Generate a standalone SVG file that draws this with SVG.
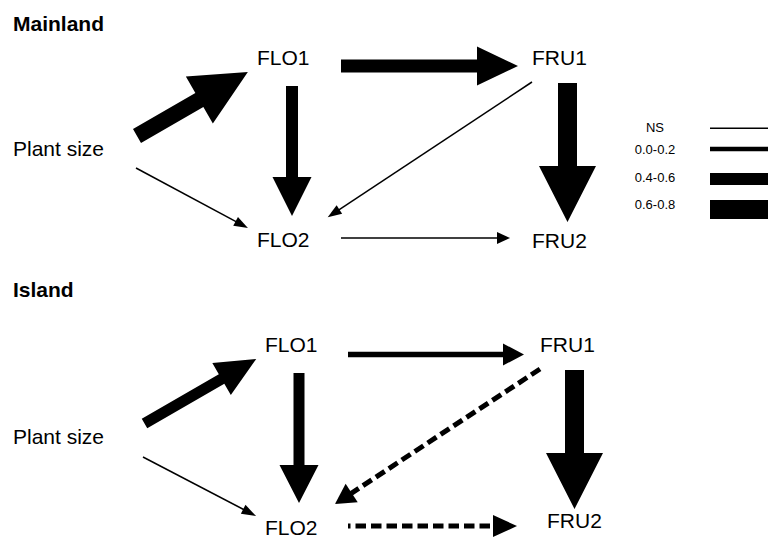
<svg xmlns="http://www.w3.org/2000/svg" width="768" height="540" viewBox="0 0 768 540">
<style>
.lbl{font-family:"Liberation Sans",Arial,sans-serif;font-size:21px;fill:#000}
.ttl{font-family:"Liberation Sans",Arial,sans-serif;font-size:21px;font-weight:bold;fill:#000}
.leg{font-family:"Liberation Sans",Arial,sans-serif;font-size:13px;fill:#000;text-anchor:middle}
.blk{fill:#000;stroke:none}
.thin{stroke:#000;stroke-width:1.5;fill:none}
.dash{stroke:#000;stroke-width:5;fill:none;stroke-dasharray:10.5 5}
.legline{stroke:#000;fill:none}
</style>
<rect width="768" height="540" fill="#fff"/>

<text class="ttl" x="13" y="31">Mainland</text>
<text class="ttl" x="13" y="297">Island</text>

<g id="m-plantsize"><text class="lbl" x="13" y="156">Plant size</text></g>
<g id="m-flo1"><text class="lbl" x="257" y="65">FLO1</text></g>
<g id="m-fru1"><text class="lbl" x="532" y="65">FRU1</text></g>
<g id="m-flo2"><text class="lbl" x="257" y="247">FLO2</text></g>
<g id="m-fru2"><text class="lbl" x="532" y="248">FRU2</text></g>

<g id="i-plantsize"><text class="lbl" x="13" y="444">Plant size</text></g>
<g id="i-flo1"><text class="lbl" x="265" y="352">FLO1</text></g>
<g id="i-fru1"><text class="lbl" x="540" y="352">FRU1</text></g>
<g id="i-flo2"><text class="lbl" x="265" y="535">FLO2</text></g>
<g id="i-fru2"><text class="lbl" x="547" y="528">FRU2</text></g>

<g id="connectors">
  <!-- Mainland -->
  <polygon class="blk" transform="translate(137,136) rotate(-30)" points="0,-8 72,-8 72,-27 128,0 72,27 72,8 0,8"/>
  <polygon class="blk" transform="translate(292,86) rotate(90)" points="0,-6 91,-6 91,-19.5 130,0 91,19.5 91,6 0,6"/>
  <polygon class="blk" transform="translate(341,66)" points="0,-6.5 136,-6.5 136,-19.5 177,0 136,19.5 136,6.5 0,6.5"/>
  <polygon class="blk" transform="translate(567.5,83) rotate(90)" points="0,-9.5 83,-9.5 83,-28.5 139,0 83,28.5 83,9.5 0,9.5"/>
  <g transform="translate(136,168) rotate(28.18)">
    <line class="thin" x1="0" y1="0" x2="114" y2="0"/>
    <polygon class="blk" points="113,-5 127,0 113,5"/>
  </g>
  <g transform="translate(532,82) rotate(146.5)">
    <line class="thin" x1="0" y1="0" x2="232" y2="0"/>
    <polygon class="blk" points="231,-5 245,0 231,5"/>
  </g>
  <g transform="translate(341,238)">
    <line class="thin" x1="0" y1="0" x2="157" y2="0"/>
    <polygon class="blk" points="156,-6 169,0 156,6"/>
  </g>

  <!-- Island -->
  <polygon class="blk" transform="translate(144.5,423.5) rotate(-30)" points="0,-5.5 89,-5.5 89,-18.5 129,0 89,18.5 89,5.5 0,5.5"/>
  <polygon class="blk" transform="translate(299,373) rotate(90)" points="0,-5.5 92,-5.5 92,-19.5 130,0 92,19.5 92,5.5 0,5.5"/>
  <polygon class="blk" transform="translate(348,354.5)" points="0,-2.75 155,-2.75 155,-11 176,0 155,11 155,2.75 0,2.75"/>
  <polygon class="blk" transform="translate(574.5,370) rotate(90)" points="0,-9.5 83,-9.5 83,-28.5 139,0 83,28.5 83,9.5 0,9.5"/>
  <g transform="translate(143,457) rotate(27.57)">
    <line class="thin" x1="0" y1="0" x2="114" y2="0"/>
    <polygon class="blk" points="113,-5 127.5,0 113,5"/>
  </g>
  <g transform="translate(540,369) rotate(146.63)">
    <line class="dash" x1="0" y1="0" x2="226" y2="0"/>
    <polygon class="blk" points="225.5,-11 245.5,0 225.5,11"/>
  </g>
  <g transform="translate(348,526)">
    <line class="dash" x1="0" y1="0" x2="146" y2="0" stroke-dashoffset="8"/>
    <polygon class="blk" points="145,-11 169,0 145,11"/>
  </g>
</g>

<g id="legend">
  <text class="leg" x="655" y="132">NS</text>
  <text class="leg" x="655" y="154">0.0-0.2</text>
  <text class="leg" x="655" y="182">0.4-0.6</text>
  <text class="leg" x="655" y="209">0.6-0.8</text>
  <line class="legline" x1="710" y1="128.3" x2="768" y2="128.3" stroke-width="1.5"/>
  <line class="legline" x1="710" y1="149" x2="768" y2="149" stroke-width="4.5"/>
  <line class="legline" x1="710" y1="179" x2="768" y2="179" stroke-width="12"/>
  <line class="legline" x1="710" y1="209.5" x2="768" y2="209.5" stroke-width="19"/>
</g>
</svg>
